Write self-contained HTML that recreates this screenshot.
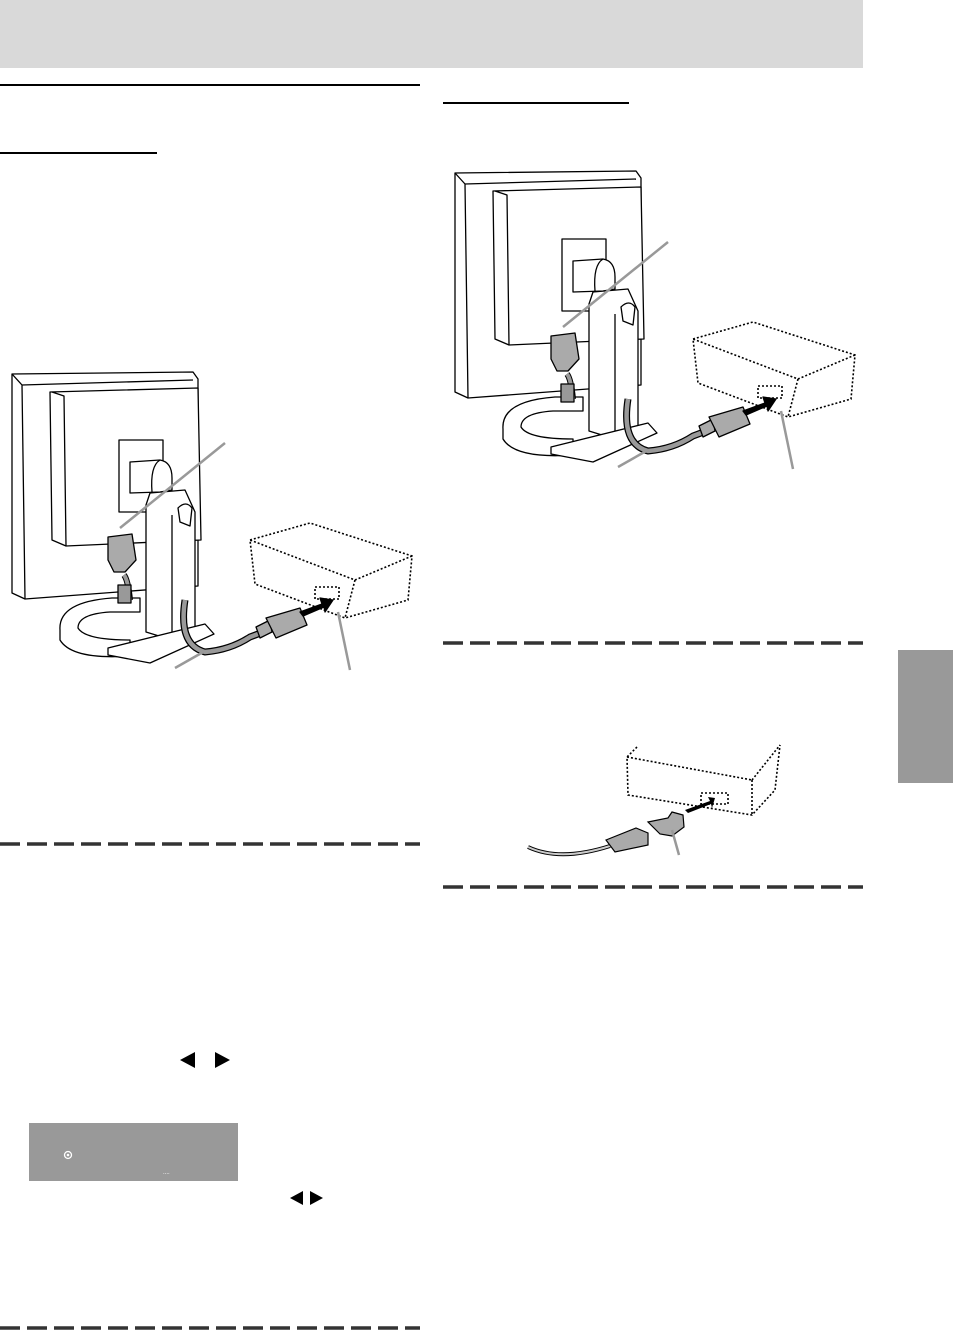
<!DOCTYPE html>
<html><head><meta charset="utf-8"><style>
html,body{margin:0;padding:0;background:#fff;}
body{width:953px;height:1330px;position:relative;overflow:hidden;font-family:"Liberation Sans",sans-serif;}
</style></head><body>
<svg width="953" height="1330" viewBox="0 0 953 1330" xmlns="http://www.w3.org/2000/svg" style="position:absolute;left:0;top:0">
<defs>
<g id="mon" fill="#fff" stroke="#000" stroke-width="1.3" stroke-linejoin="round">
  <polygon points="12,374 193,372 198,379 198,586 25,599 12,593"/>
  <polyline points="25,599 22,385 12,374" fill="none"/>
  <line x1="22" y1="385" x2="193" y2="380"/>
  <polygon points="50,392 198,388 201,540 66,546 52,540"/>
  <polyline points="66,546 64,396 52,392" fill="none"/>
  <rect x="119" y="440" width="44" height="72"/>
  <path d="M130,462 L160,460 Q172,462 172,478 L172,490 L160,492 L130,493 Z"/>
  <path d="M160,460 Q150,466 152,492"/>
  <path d="M150,493 L185,490 L195,512 L195,628 L172,640 L146,632 L146,505 Z"/>
  <line x1="172" y1="515" x2="172" y2="640"/>
  <path d="M178,508 Q186,500 192,508 L190,526 L180,522 Z"/>
  <path d="M60,630 Q58,602 112,598 L140,598 L140,612 L110,612 Q78,614 78,628 Q85,640 130,640 L130,656 Q72,660 60,640 Z"/>
  <polygon points="108,648 205,624 214,634 150,663 108,655"/>
  <path d="M130,600 Q128,580 124,575" fill="none" stroke="#000" stroke-width="6"/>
  <path d="M130,600 Q128,580 124,575" fill="none" stroke="#999" stroke-width="4"/>
  <rect x="118" y="585" width="13" height="18" fill="#999"/>
  <path d="M108,537 L132,534 L136,560 L125,572 L114,572 L108,560 Z" fill="#aaa"/>
  <path d="M185,600 Q178,645 205,652 Q230,650 250,637 L290,622" fill="none" stroke="#000" stroke-width="7"/>
  <path d="M185,600 Q178,645 205,652 Q230,650 250,637 L290,622" fill="none" stroke="#999" stroke-width="4.5"/>
  <path d="M256,627 L270,620 L272,632 L260,638 Z" fill="#aaa"/>
  <path d="M266,618 L300,608 L307,625 L276,638 Z" fill="#aaa"/>
  <polygon points="300,612 322,604 320,598 333,600 325,612 324,607 303,616" fill="#000"/>
</g>
<g id="box" fill="none" stroke="#000" stroke-width="1.6" stroke-dasharray="2,2">
  <polyline points="250,540 310,523 412,556 408,600 345,618 255,584 250,540 355,580 412,556"/>
  <line x1="355" y1="580" x2="345" y2="618"/>
  <rect x="315" y="587" width="24" height="12"/>
</g>
</defs>

<rect x="0" y="0" width="863" height="68" fill="#d9d9d9"/>
<rect x="0" y="84" width="420" height="2" fill="#000"/>
<rect x="443" y="102" width="186" height="2" fill="#000"/>
<rect x="0" y="152" width="157" height="2" fill="#000"/>

<use href="#mon"/>
<use href="#box"/>
<g stroke="#999" stroke-width="2.5" fill="none">
  <line x1="120" y1="528" x2="225" y2="443"/>
  <line x1="175" y1="668" x2="205" y2="651"/>
  <line x1="350" y1="670" x2="338" y2="612"/>
</g>

<g transform="translate(443,-201)">
  <use href="#mon"/>
  <use href="#box"/>
  <g stroke="#999" stroke-width="2.5" fill="none">
    <line x1="120" y1="528" x2="225" y2="443"/>
    <line x1="175" y1="668" x2="205" y2="651"/>
    <line x1="350" y1="670" x2="338" y2="612"/>
  </g>
</g>

<!-- small figure -->
<g fill="none" stroke="#000" stroke-width="1.6" stroke-dasharray="2,2">
  <polyline points="637,747 627,757 628,795 752,815 775,790 780,745"/>
  <line x1="627" y1="757" x2="752" y2="780"/>
  <line x1="752" y1="780" x2="780" y2="745"/>
  <line x1="752" y1="780" x2="752" y2="815"/>
  <rect x="701" y="793" width="27" height="11"/>
</g>
<polygon points="685,810 710,801 708,797 715,798 712,808 711,804 688,813" fill="#000"/>
<path d="M528,847 Q560,862 610,846" fill="none" stroke="#000" stroke-width="4"/>
<path d="M528,847 Q560,862 610,846" fill="none" stroke="#ccc" stroke-width="2"/>
<path d="M606,840 L636,828 L648,833 L648,845 L615,852 Z" fill="#aaa" stroke="#000" stroke-width="1.2"/>
<path d="M648,822 L668,818 L672,812 L683,815 L684,827 L672,836 L660,834 Z" fill="#aaa" stroke="#000" stroke-width="1.2"/>
<line x1="672" y1="830" x2="679" y2="855" stroke="#999" stroke-width="2.5"/>

<!-- dashed lines -->
<g stroke="#333" stroke-width="3.5" stroke-dasharray="20,7">
  <line x1="0" y1="844" x2="420" y2="844"/>
  <line x1="443" y1="643" x2="863" y2="643"/>
  <line x1="443" y1="887" x2="863" y2="887"/>
  <line x1="0" y1="1328" x2="420" y2="1328"/>
</g>

<rect x="898" y="650" width="55" height="133" fill="#999"/>

<!-- arrows -->
<polygon points="195,1052 195,1068 180,1060" fill="#000"/>
<polygon points="215,1052 215,1068 230,1060" fill="#000"/>
<polygon points="303,1191 303,1205 290,1198" fill="#000"/>
<polygon points="310,1191 310,1205 323,1198" fill="#000"/>

<rect x="29" y="1123" width="209" height="58" fill="#999"/>
<circle cx="68" cy="1155" r="3.5" fill="none" stroke="#fff" stroke-width="1.3"/>
<circle cx="68" cy="1155" r="1.3" fill="#fff"/>
<text x="163" y="1174" font-size="6" fill="#fff" font-family="Liberation Sans, sans-serif">....</text>
</svg>
</body></html>
